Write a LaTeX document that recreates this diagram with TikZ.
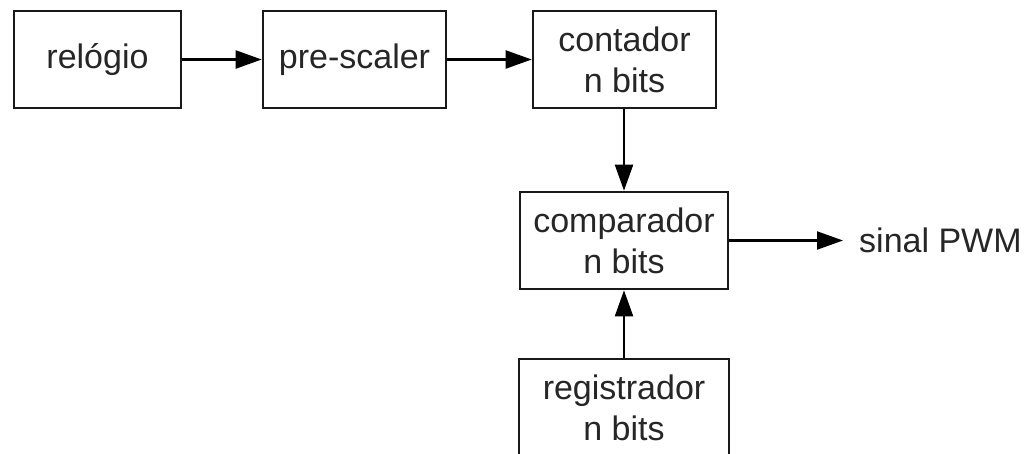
\documentclass[tikz,border=0pt]{standalone}
\usepackage{fontspec}
\setmainfont{Liberation Sans}
\usetikzlibrary{arrows.meta}
\begin{document}
\begin{tikzpicture}[x=1pt,y=-1pt,
  blk/.style={draw=black!90, line width=2.6pt, rectangle, inner sep=0pt, minimum height=97pt,
    align=center, text=black!85, font=\fontsize{34}{41}\selectfont},
  conn/.style={draw=black, line width=2.2pt, -{Triangle[length=26pt,width=18pt]}},
  lbl/.style={text=black!85, font=\fontsize{34}{41}\selectfont, inner ysep=0pt, inner xsep=16pt}]
\clip (0,0) rectangle (1025,453);
\fill[white] (0,0) rectangle (1025,453);
\node[blk, minimum width=167pt] (rel) at (97.5,59.5) {relógio};
\node[blk, minimum width=183pt] (pre) at (354.5,59.5) {pre-scaler};
\node[blk, minimum width=183pt] (cont) at (624.5,59.5) {contador\\n bits};
\node[blk, minimum width=208pt] (comp) at (624,240.5) {comparador\\n bits};
\node[blk, minimum width=210pt] (reg) at (624,407.5) {registrador\\n bits};
\node[lbl, anchor=west] (pwm) at (843,240.5) {sinal PWM};
\draw[conn] (rel) -- (pre);
\draw[conn] (pre) -- (cont);
\draw[conn] (cont.south -| comp.north) -- (comp.north);
\draw[conn] (comp.east) -- (comp.east -| pwm.west);
\draw[conn] (reg) -- (comp);
\end{tikzpicture}
\end{document}
